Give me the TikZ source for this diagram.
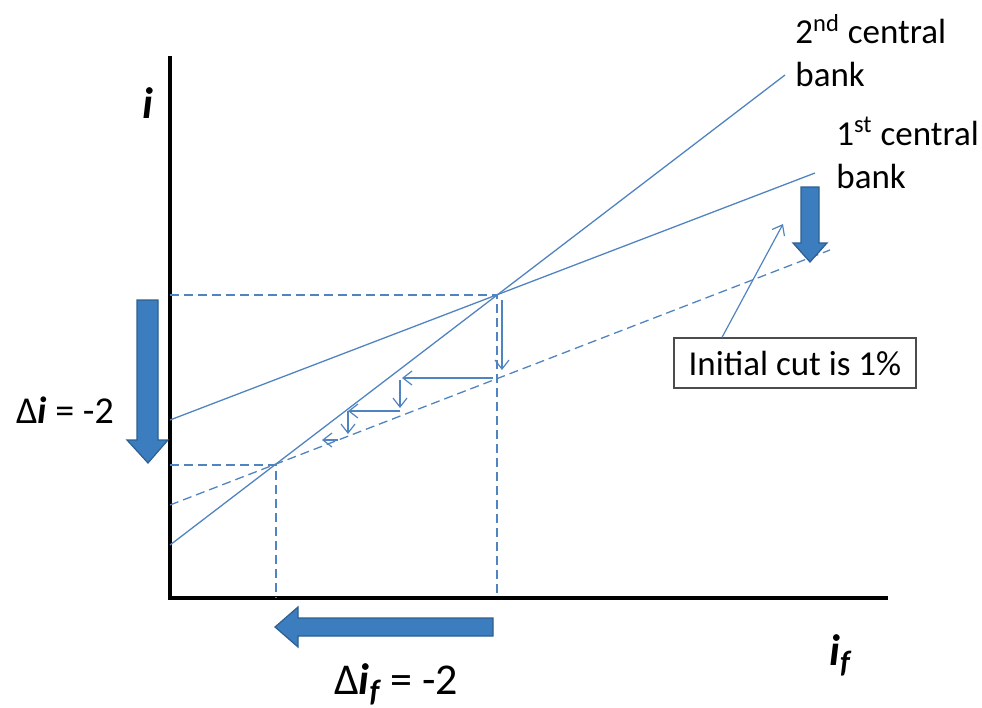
\documentclass[tikz,border=0pt]{standalone}
\usepackage{fontspec}
\setmainfont{Carlito}
\usepackage{tikz}
\usetikzlibrary{arrows.meta, positioning}
\definecolor{curve}{HTML}{4F84C0}
\definecolor{blockfill}{HTML}{3C7DBF}
\definecolor{blockline}{HTML}{2E5F8F}

\begin{document}
\begin{tikzpicture}[
  x=0.5pt, y=-0.5pt,
  axis/.style={line width=2pt, black},
  cb/.style={line width=0.65pt, color=curve},
  shifted/.style={cb, dash pattern=on 4.5pt off 2.5pt},
  guide/.style={line width=0.55pt, color=curve, dash pattern=on 4.5pt off 2.5pt},
  stepline/.style={-{Straight Barb[length=4.5pt, width=7pt]}, line width=0.6pt, color=curve},
  bigarr/.style={fill=blockfill, draw=blockline, line width=0.6pt, line join=miter},
  lbl/.style={font=\fontsize{17.5}{21.5}\selectfont, align=left, inner sep=0pt},
  big/.style={font=\fontsize{22}{26}\selectfont, inner sep=0pt},
  cutbox/.style={draw=black!70, fill=white, line width=0.6pt, minimum width=121pt,
              minimum height=25pt, font=\fontsize{17.5}{21.5}\selectfont}
]
  \useasboundingbox (0,0) rectangle (982,708);

  % Axes
  \draw[axis] (170,56) -- (170,598) -- (888,598);
  \node[big] (iaxis) at (148,103) {\textbf{\textit{i}}};
  \node[big] (ifaxis) at (840,655) {\textbf{\textit{i\textsubscript{f}}}};

  % Guides
  \coordinate (eqA) at (497,295);
  \coordinate (eqB) at (276,465);
  \draw[guide] (170,295) -- (eqA) -- (497,598);
  \draw[guide] (170,465) -- (eqB) -- (276,598);

  % Reaction curves
  \draw[cb] (170,420) -- (815,173);
  \draw[cb] (170,545) -- (785,75);
  \draw[shifted] (170,505) -- (830,250);

  % Adjustment steps
  \draw[stepline] (502,300) -- (502,370);
  \draw[stepline] (493,378) -- (402,378);
  \draw[stepline] (400,380) -- (400,408);
  \draw[stepline] (400,411) -- (348,411);
  \draw[stepline] (348,411) -- (348,434);
  \draw[stepline] (338,440) -- (322,440);

  % Block arrows
  \draw[bigarr] (137,300) -- (158,300) -- (158,440) -- (168,440) -- (148,463)
    -- (127,440) -- (137,440) -- cycle;
  \draw[bigarr] (493,618) -- (298,618) -- (298,607) -- (275,627) -- (298,647)
    -- (298,636) -- (493,636) -- cycle;
  \draw[bigarr] (801,187) -- (819,187) -- (819,243) -- (827,243) -- (810,262)
    -- (793,243) -- (801,243) -- cycle;

  % Labels
  \node[lbl, anchor=north west] (cb2) at (795,14) {2\textsuperscript{nd} central\\bank};
  \node[lbl, anchor=north west] (cb1) at (836,117) {1\textsuperscript{st} central\\bank};
  \node[lbl, font=\fontsize{19}{22}\selectfont, anchor=base] (di) at (65,423) {Δ\textbf{\textit{i}} = -2};
  \node[big, anchor=base] (dif) at (396,694) {Δ\textbf{\textit{i\textsubscript{f}}} = -2};

  \node[cutbox] (cut) at (795,363) {Initial cut is 1\%};
  \coordinate (cuttip) at (783,224);
  \draw[stepline] ([xshift=-36.5pt]cut.north) -- (cuttip);
\end{tikzpicture}
\end{document}
